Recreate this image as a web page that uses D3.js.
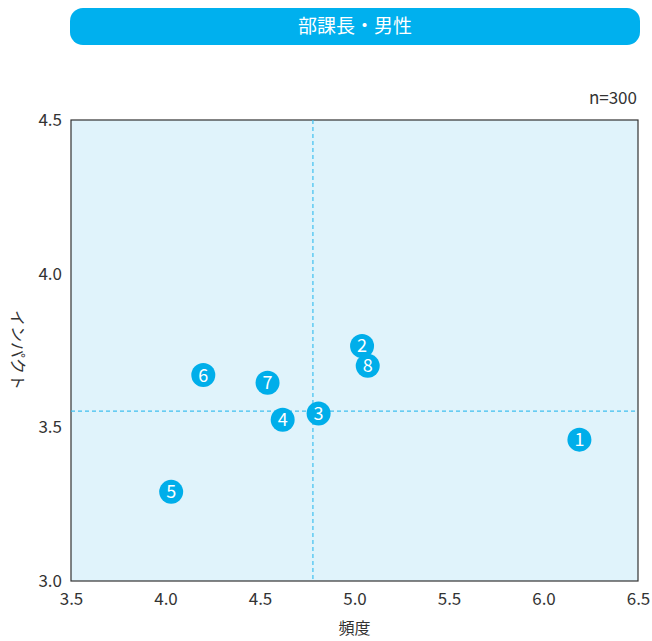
<!DOCTYPE html>
<html>
<head>
<meta charset="utf-8">
<script src="https://cdn.jsdelivr.net/npm/d3@7"></script>
<style>
  body { margin: 0; background: #fff; }
  svg text { font-family: "Noto Sans CJK JP", "Noto Sans", sans-serif; }
</style>
</head>
<body>
<div id="chart"></div>
<script>
const title = '部課長・男性';
const sampleNote = 'n=300';
const labels = ['1', '2', '3', '4', '5', '6', '7', '8'];
const freq = [6.19, 5.04, 4.81, 4.62, 4.03, 4.20, 4.54, 5.07];
const impact = [3.46, 3.765, 3.545, 3.525, 3.29, 3.67, 3.645, 3.70];
const xTicks = [3.5, 4.0, 4.5, 5.0, 5.5, 6.0, 6.5];
const yTicks = [3.0, 3.5, 4.0, 4.5];
const refX = 4.78;
const refY = 3.553;

const W = 652, H = 641;
const margin = { top: 120, right: 14, bottom: 60, left: 71 };
const innerW = W - margin.left - margin.right;
const innerH = H - margin.top - margin.bottom;

const svg = d3.select('#chart').append('svg').attr('width', W).attr('height', H);

// Title banner
svg.append('rect')
  .attr('x', 70).attr('y', 8).attr('width', 570).attr('height', 37)
  .attr('rx', 13).attr('fill', '#00b0ee');
svg.append('text')
  .attr('x', 355).attr('y', 33)
  .attr('text-anchor', 'middle')
  .attr('fill', '#fff')
  .style('font-size', '19px')
  .text(title);

svg.append('text')
  .attr('x', 637).attr('y', 104)
  .attr('text-anchor', 'end')
  .attr('fill', '#333')
  .style('font-size', '17px')
  .text(sampleNote);

const x = d3.scaleLinear().domain([3.5, 6.5]).range([0, innerW]);
const y = d3.scaleLinear().domain([3.0, 4.5]).range([innerH, 0]);

const g = svg.append('g').attr('transform', `translate(${margin.left},${margin.top})`);

g.append('rect')
  .attr('width', innerW).attr('height', innerH)
  .attr('fill', '#e0f3fb').attr('stroke', '#333').attr('stroke-width', 1.2);

// Reference lines
g.append('line')
  .attr('x1', x(refX)).attr('x2', x(refX)).attr('y1', 0).attr('y2', innerH)
  .attr('stroke', '#3fc0f0').attr('stroke-width', 1.2).attr('stroke-dasharray', '4,3');
g.append('line')
  .attr('x1', 0).attr('x2', innerW).attr('y1', y(refY)).attr('y2', y(refY))
  .attr('stroke', '#3fc0f0').attr('stroke-width', 1.2).attr('stroke-dasharray', '4,3');

// Axes (labels only)
const xAxis = g.append('g')
  .attr('transform', `translate(0,${innerH})`)
  .call(d3.axisBottom(x).tickValues(xTicks).tickFormat(d3.format('.1f')).tickSize(0).tickPadding(12));
xAxis.select('.domain').remove();
xAxis.selectAll('text').attr('fill', '#333').style('font-size', '17px')
  .style('font-family', '"Noto Sans CJK JP", sans-serif');

const yAxis = g.append('g')
  .call(d3.axisLeft(y).tickValues(yTicks).tickFormat(d3.format('.1f')).tickSize(0).tickPadding(9));
yAxis.select('.domain').remove();
yAxis.selectAll('text').attr('fill', '#333').style('font-size', '17px')
  .style('font-family', '"Noto Sans CJK JP", sans-serif');

// Axis titles
svg.append('text')
  .attr('x', margin.left + innerW / 2).attr('y', 634)
  .attr('text-anchor', 'middle').attr('fill', '#333')
  .style('font-size', '16px')
  .text('頻度');
svg.append('text')
  .attr('transform', 'translate(12,350) rotate(90)')
  .attr('text-anchor', 'middle').attr('fill', '#333')
  .style('font-size', '16px')
  .text('インパクト');

// Points
const pts = labels.map((l, i) => ({ l, fx: freq[i], fy: impact[i] }));
const pg = g.selectAll('g.pt').data(pts).join('g')
  .attr('class', 'pt')
  .attr('transform', (d) => `translate(${x(d.fx)},${y(d.fy)})`);
pg.append('circle').attr('r', 12).attr('fill', '#00aeea');
pg.append('text')
  .attr('text-anchor', 'middle').attr('dy', '0.36em')
  .attr('fill', '#fff')
  .style('font-size', '18px')
  .text((d) => d.l);
</script>
</body>
</html>
